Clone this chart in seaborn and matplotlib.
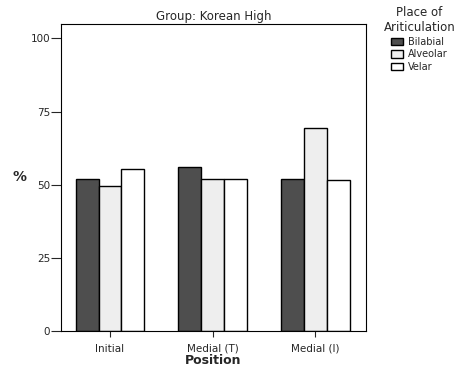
import matplotlib
matplotlib.use("Agg")
import matplotlib.pyplot as plt
import seaborn as sns
import pandas as pd

positions = ["Initial", "Medial (T)", "Medial (I)"]
places = ["Bilabial", "Alveolar", "Velar"]
bilabial = [52, 56, 52]
alveolar = [49.5, 52, 69.5]
velar = [55.5, 52, 51.5]
yticks = [0, 25, 50, 75, 100]

rows = []
for i, p in enumerate(positions):
    rows.append((p, "Bilabial", bilabial[i]))
    rows.append((p, "Alveolar", alveolar[i]))
    rows.append((p, "Velar", velar[i]))
df = pd.DataFrame(rows, columns=["Position", "Place", "Pct"])

sns.set_theme(style="ticks")
plt.rcParams['font.family'] = ['DejaVu Sans']

fig = plt.figure(figsize=(4.63, 3.68), dpi=100)
ax = fig.add_axes([0.132, 0.1005, 0.658, 0.835])
palette = {"Bilabial": "#4e4e4e", "Alveolar": "#eeeeee", "Velar": "#ffffff"}
sns.barplot(data=df, x="Position", y="Pct", hue="Place", hue_order=places,
            order=positions, palette=palette, width=0.67, edgecolor="black",
            linewidth=1.0, saturation=1, ax=ax)
ax.set_xlim(-0.476, 2.49)
ax.set_ylim(0, 105)
ax.set_yticks(yticks)
ax.set_yticklabels([str(t) for t in yticks], fontsize=7.5)
ax.tick_params(axis='y', length=7, width=0.8, direction='out', pad=1)
ax.tick_params(axis='x', length=4, width=0.8, direction='out', labelsize=7.5, pad=5)
for s in ax.spines.values():
    s.set_visible(True)
    s.set_linewidth(0.8)
    s.set_color("black")
ax.set_xlabel("Position", fontsize=9, fontweight="bold", labelpad=0)
ax.set_ylabel("%", fontsize=10, fontweight="bold", rotation=0, labelpad=8, va="center")
ax.set_title("Group: Korean High", fontsize=8.5, pad=3)
leg = ax.legend(title="Place of\nAriticulation", loc="upper left",
                bbox_to_anchor=(1.03, 1.085), frameon=False, fontsize=7,
                title_fontsize=8.5, handlelength=1.2, handleheight=0.8,
                handletextpad=0.5, labelspacing=0.25)
leg._legend_box.align = "center"
leg.get_title().set_multialignment("center")
fig.savefig("out.png", dpi=100)
